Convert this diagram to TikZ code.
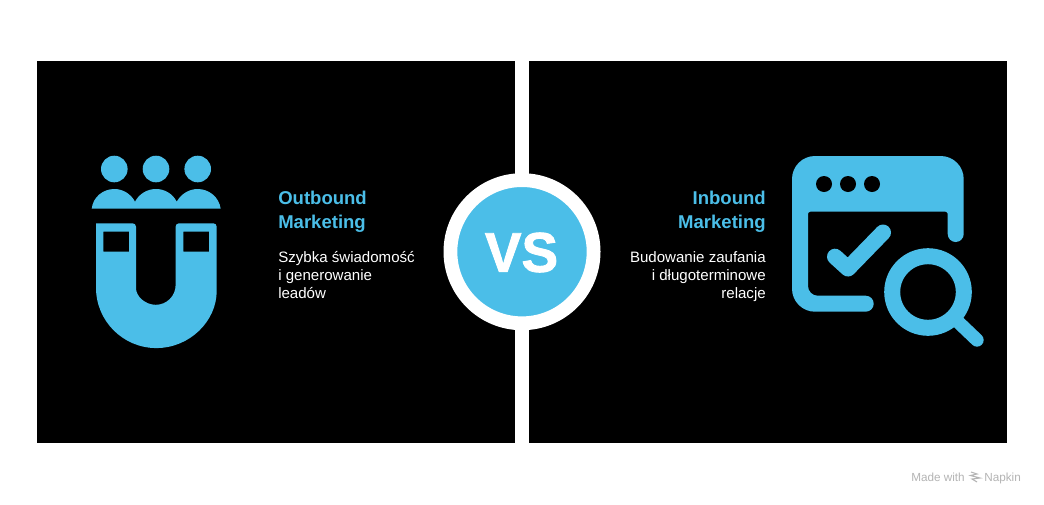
\documentclass[tikz,border=0pt]{standalone}
\usepackage{fontspec}
\setmainfont{Liberation Sans}
\newfontfamily\versusfont[FakeBold=1.6]{Liberation Sans Bold}
\usetikzlibrary{positioning}
\definecolor{napkinblue}{HTML}{4BBEE8}
\definecolor{napkingrey}{HTML}{B4B4B4}
\tikzset{
    panel/.style={fill=black, draw=none},
    icon/.style={fill=napkinblue, draw=none},
    iconline/.style={draw=napkinblue, line width=12pt, line cap=round, line join=round},
    titletext/.style={inner sep=0pt, text=napkinblue, font=\fontsize{13.9}{18.4}\selectfont\bfseries},
    bodytext/.style={inner sep=0pt, text=white, font=\fontsize{11.3}{13.5}\selectfont},
    marktext/.style={inner sep=0pt, text=napkingrey, font=\fontsize{8.8}{10}\selectfont}
}
\begin{document}
\begin{tikzpicture}[x=0.75pt, y=-0.75pt]
    \useasboundingbox (0, 0) rectangle (1044, 504);
    \fill [white] (0, 0) rectangle (1044, 504);
    % panels
    \fill [panel] (37, 61) rectangle (515, 443);
    \fill [panel] (529, 61) rectangle (1007, 443);
    % people
    \foreach \headx in {114.3, 156, 197.7}
        \fill [icon] (\headx, 169) circle [radius=13.3];
    \fill [icon] (91.7, 208.7) .. controls (93, 197) and (103, 189) .. (114.3, 189)
        .. controls (123, 189) and (131, 194) .. (135, 201.7)
        .. controls (139, 194) and (147, 189) .. (156, 189)
        .. controls (165, 189) and (173, 194) .. (176.7, 201.7)
        .. controls (181, 194) and (189, 189) .. (197.7, 189)
        .. controls (209, 189) and (219, 197) .. (220.7, 208.7) -- cycle;
    % magnet
    \fill [icon, even odd rule] [rounded corners=2.5] (96, 223.3) -- (136, 223.3) -- (136, 285)
        [sharp corners] arc (180:0:19.8)
        [rounded corners=2.5] -- (175.6, 223.3) -- (216.7, 223.3) -- (216.7, 287.7)
        [sharp corners] arc (0:180:60.35) -- cycle
        (103.3, 231.7) rectangle (129, 251.7)
        (183.3, 231.7) rectangle (209, 251.7);
    % browser
    \fill [icon] (865.7, 311.7) arc (90:-90:8) -- (817.7, 295.7)
        arc (90:180:9.7) -- (808, 214) arc (180:270:2.3) -- (945.4, 211.7)
        arc (270:360:2.3) -- (947.7, 234) arc (180:0:8) -- (963.7, 179)
        arc (0:-90:23) -- (815, 156) arc (-90:-180:23) -- (792, 288.7)
        arc (180:90:23) -- cycle;
    \foreach \dotx in {824, 848, 872}
        \fill [black] (\dotx, 184) circle [radius=8];
    \draw [iconline] (835, 256.7) -- (848, 268.5) -- (883, 232.5);
    % magnifier
    \draw [draw=napkinblue, line width=12pt] (928, 292) circle [radius=35.8];
    \draw [iconline, line width=10pt] (955, 319) -- (977, 340);
    % versus
    \fill [white] (515, 61) rectangle (529, 443);
    \node [circle, fill=napkinblue, draw=white, line width=10.35pt, minimum size=107.4pt, inner sep=0pt] (versus) at (522, 251.7) {};
    \node [text=white, inner sep=0pt, font=\fontsize{42}{42}\versusfont, xscale=0.98] at (521.5, 252.5) {VS};
    % left text
    \node [titletext, align=left, anchor=north west] (outtitle) at (278, 190.5) {Outbound\\Marketing};
    \node [bodytext, align=left, anchor=north west] (outbody) at (278, 251) {Szybka świadomość\\i generowanie\\leadów};
    % right text
    \node [titletext, align=right, anchor=north east] (intitle) at (766, 190.5) {Inbound\\Marketing};
    \node [bodytext, align=right, anchor=north east] (inbody) at (766, 251) {Budowanie zaufania\\i długoterminowe\\relacje};
    % mark
    \node [marktext, anchor=base west] (made) at (911, 481) {Made with};
    \node [marktext, anchor=base west] (napkin) at (984, 481) {Napkin};
    \draw [napkingrey, line width=0.8pt] (971, 472) -- (977, 474) -- (970.5, 475.5) -- (980, 478) -- (972, 479) -- (977, 482);
\end{tikzpicture}
\end{document}
